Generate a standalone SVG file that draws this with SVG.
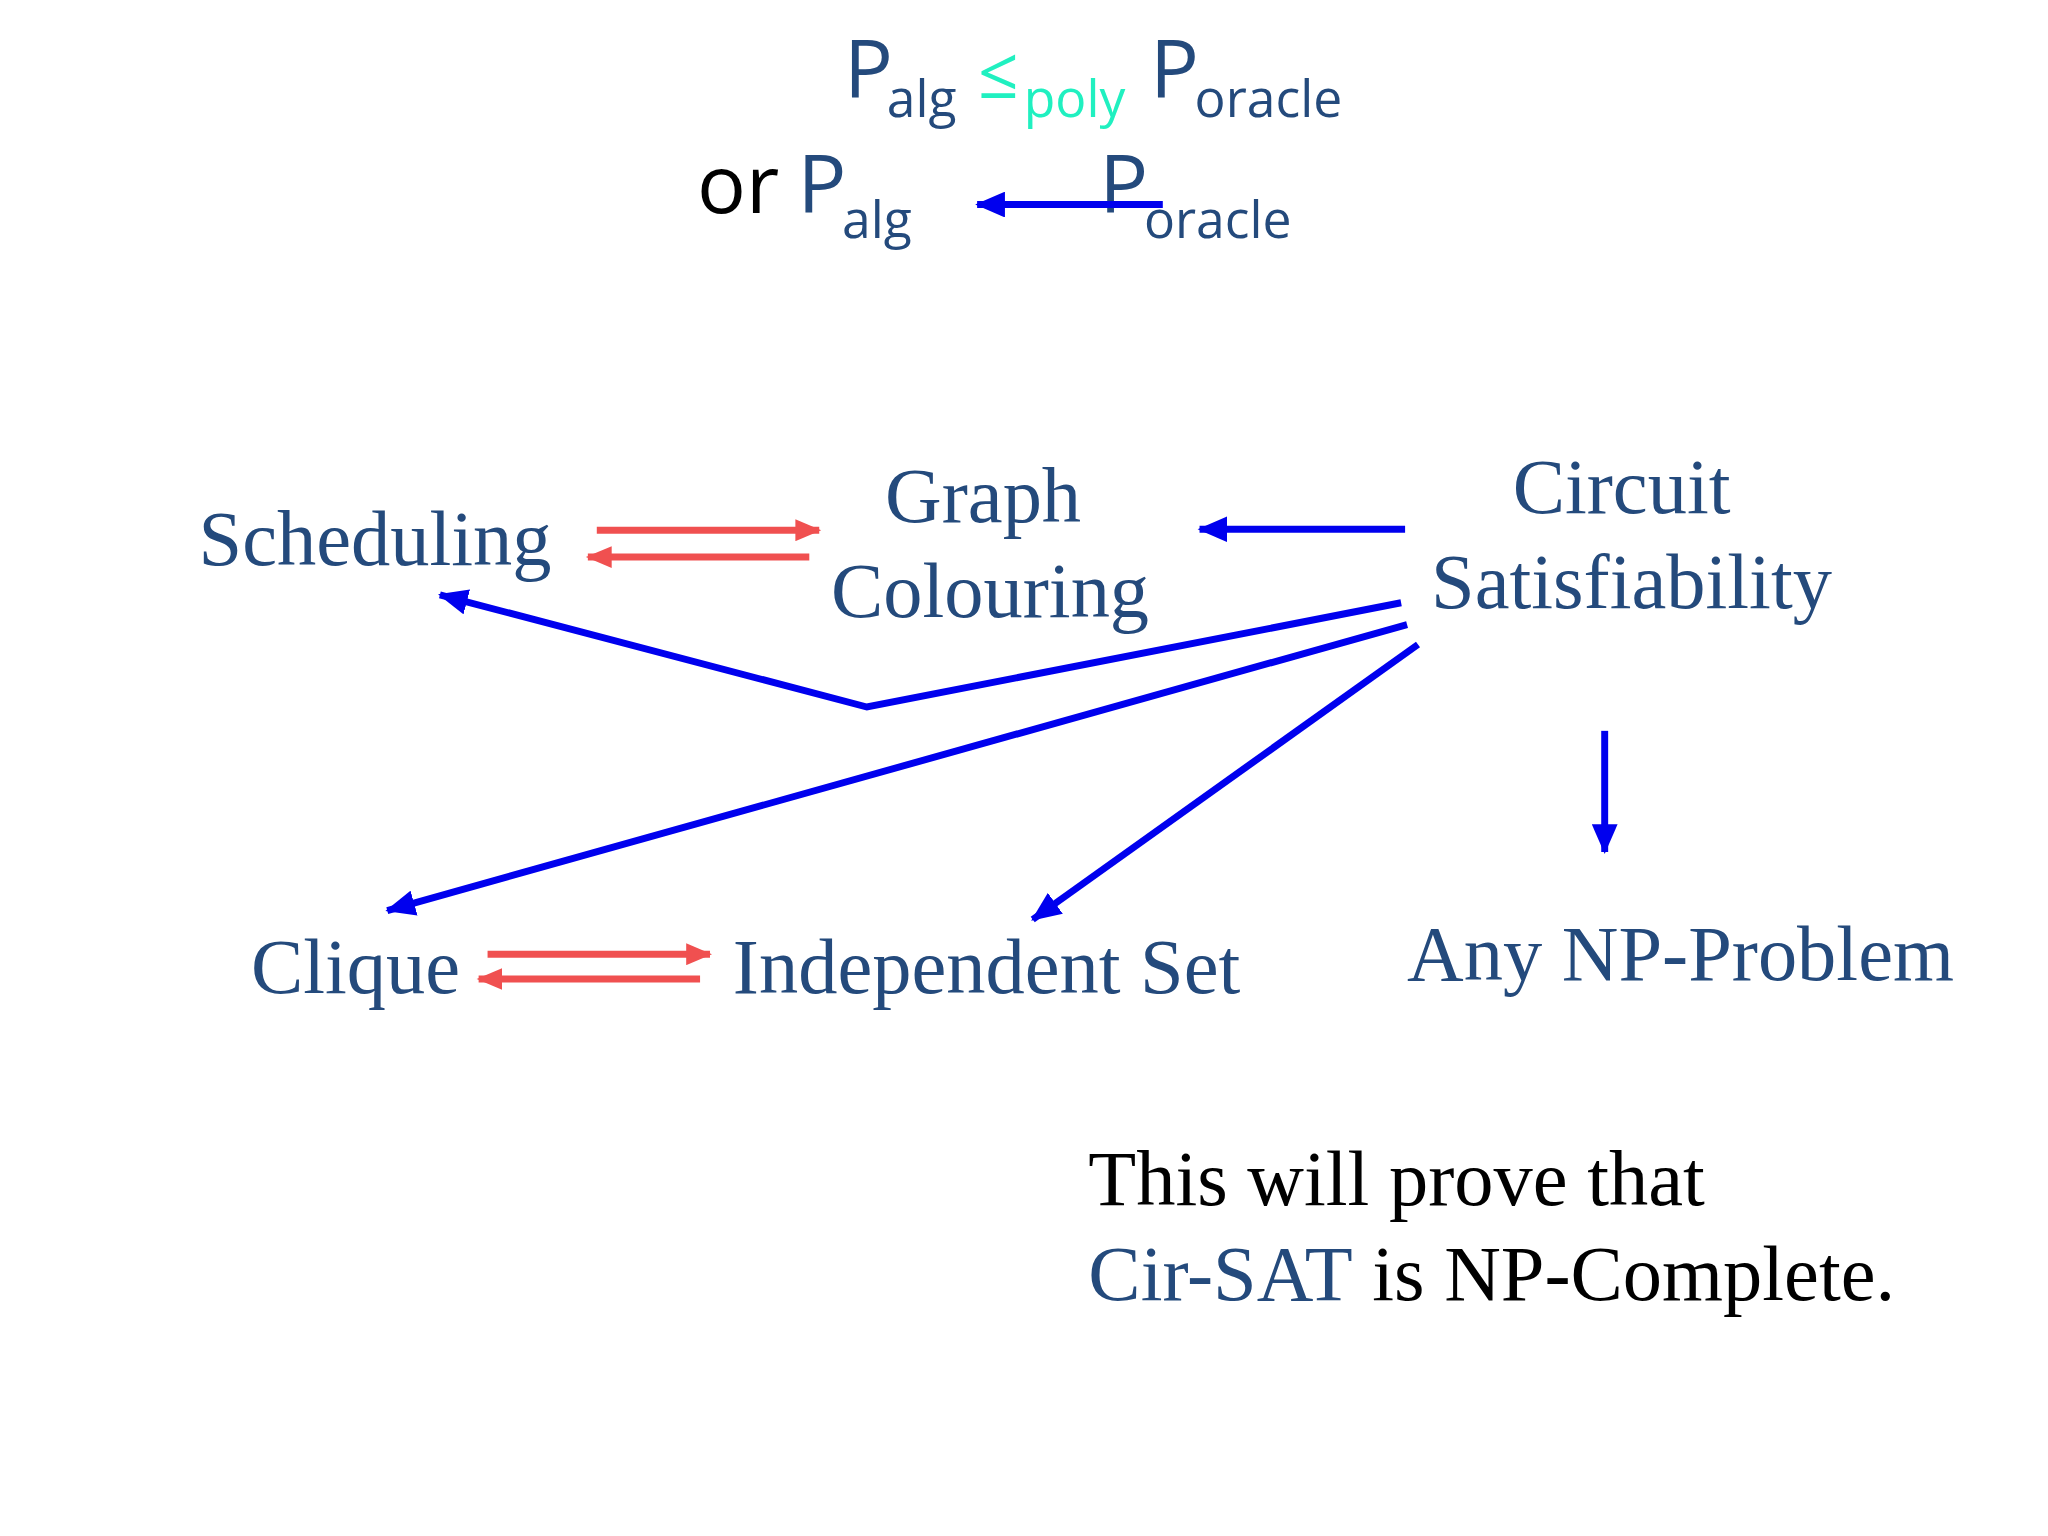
<svg xmlns="http://www.w3.org/2000/svg" width="2048" height="1536" viewBox="0 0 2048 1536">
<style>
.s{font-family:"Open Sans","Noto Sans",sans-serif;fill:#244a7c}
.n{font-family:"Liberation Serif",serif;font-size:79px;fill:#244a7c}
.k{fill:#000}
.b{stroke:#0000ee;stroke-width:7;fill:none}
.r{stroke:#f05050;stroke-width:7;fill:none}
</style>
<defs>
<marker id="ab" markerUnits="userSpaceOnUse" markerWidth="32" markerHeight="26" refX="28" refY="13" orient="auto"><path d="M0,0L30,13L0,26Z" fill="#0000ee"/></marker>
<marker id="ar" markerUnits="userSpaceOnUse" markerWidth="30" markerHeight="22" refX="24" refY="11" orient="auto"><path d="M0,0L26,11L0,22Z" fill="#f05050"/></marker>
</defs>
<rect width="2048" height="1536" fill="#fff"/>
<g transform="scale(0.993)">
<g id="formula">
<text class="s" x="850" y="99" font-size="82">P</text>
<text class="s" x="893" y="118" font-size="52">alg</text>
<text x="985" y="99" font-size="72" font-family="Open Sans,sans-serif" fill="#20f0c0">≤</text>
<text x="1031" y="118" font-size="52" font-family="Open Sans,sans-serif" fill="#20f0c0">poly</text>
<text class="s" x="1158" y="99" font-size="82">P</text>
<text class="s" x="1203" y="118" font-size="52">oracle</text>
<text x="702" y="215" font-size="82" font-family="Open Sans,sans-serif" fill="#000">or</text>
<text class="s" x="803" y="215" font-size="82">P</text>
<text class="s" x="848" y="240" font-size="52">alg</text>
<text class="s" x="1107" y="215" font-size="82">P</text>
<text class="s" x="1152" y="240" font-size="52">oracle</text>
</g>
<g id="connectors">
<line class="b" x1="1171" y1="206" x2="984" y2="206" marker-end="url(#ab)"/>
<line class="b" x1="1415" y1="533" x2="1208" y2="533" marker-end="url(#ab)"/>
<polyline class="b" points="1411,607 873,712 443,599" marker-end="url(#ab)"/>
<line class="b" x1="1417" y1="629" x2="390" y2="917" marker-end="url(#ab)"/>
<line class="b" x1="1428" y1="649" x2="1040" y2="926" marker-end="url(#ab)"/>
<line class="b" x1="1616" y1="736" x2="1616" y2="858" marker-end="url(#ab)"/>
<line class="r" x1="601" y1="534" x2="825" y2="534" marker-end="url(#ar)"/>
<line class="r" x1="815" y1="561" x2="592" y2="561" marker-end="url(#ar)"/>
<line class="r" x1="491" y1="961" x2="715" y2="961" marker-end="url(#ar)"/>
<line class="r" x1="705" y1="986" x2="482" y2="986" marker-end="url(#ar)"/>
</g>
<g id="scheduling"><text class="n" x="200" y="569">Scheduling</text></g>
<g id="graph"><text class="n" x="990" y="526" text-anchor="middle">Graph</text><text class="n" x="997" y="621" text-anchor="middle">Colouring</text></g>
<g id="circuit"><text class="n" x="1633" y="517" text-anchor="middle">Circuit</text><text class="n" x="1643" y="612" text-anchor="middle">Satisfiability</text></g>
<g id="clique"><text class="n" x="358" y="1000" text-anchor="middle">Clique</text></g>
<g id="indep"><text class="n" x="738" y="1000">Independent Set</text></g>
<g id="anynp"><text class="n" x="1417" y="987">Any NP-Problem</text></g>
<g id="note"><text class="n k" x="1096" y="1213">This will prove that</text>
<text class="n" x="1096" y="1309"><tspan>Cir-SAT</tspan><tspan class="k"> is NP-Complete.</tspan></text></g>
</g>
</svg>
